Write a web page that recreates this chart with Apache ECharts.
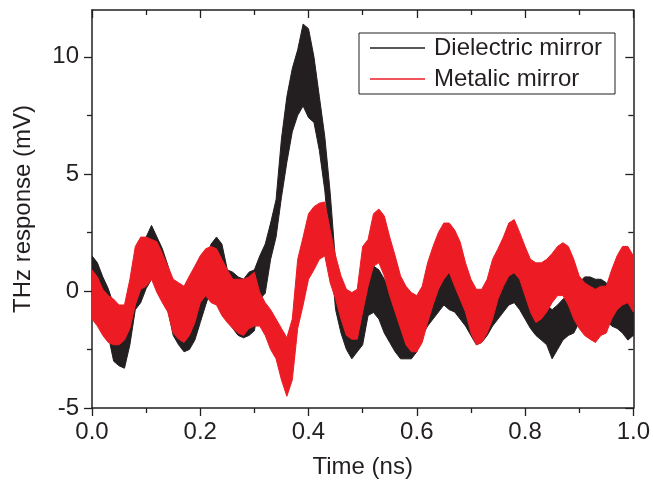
<!DOCTYPE html>
<html>
<head>
<meta charset="utf-8">
<script src="https://cdn.jsdelivr.net/npm/echarts@6/dist/echarts.min.js"></script>
<style>
  html, body { margin: 0; padding: 0; background: #fff; }
  #chart { width: 653px; height: 490px; }
</style>
</head>
<body>
<div id="chart"></div>
<script>
// Sample times (ns)
const TIME = [0.00,0.01,0.02,0.03,0.04,0.05,0.06,0.07,0.08,0.09,
  0.10,0.11,0.12,0.13,0.14,0.15,0.16,0.17,0.18,0.19,
  0.20,0.21,0.22,0.23,0.24,0.25,0.26,0.27,0.28,0.29,
  0.30,0.31,0.32,0.33,0.34,0.35,0.36,0.37,0.38,0.39,
  0.40,0.41,0.42,0.43,0.44,0.45,0.46,0.47,0.48,0.49,
  0.50,0.51,0.52,0.53,0.54,0.55,0.56,0.57,0.58,0.59,
  0.60,0.61,0.62,0.63,0.64,0.65,0.66,0.67,0.68,0.69,
  0.70,0.71,0.72,0.73,0.74,0.75,0.76,0.77,0.78,0.79,
  0.80,0.81,0.82,0.83,0.84,0.85,0.86,0.87,0.88,0.89,
  0.90,0.91,0.92,0.93,0.94,0.95,0.96,0.97,0.98,0.99,1.00];

// Dielectric mirror: lower / upper envelope of the noisy trace (mV)
const DIELECTRIC_LO = [-0.9,-0.9,-1.2,-1.9,-3.0,-3.2,-3.3,-2.3,-0.8,-0.5,
  0.1,0.5,0.5,-0.35,-0.8,-1.9,-2.3,-2.6,-2.5,-2.1,
  -1.35,-0.6,0.1,0.2,-0.5,-1.2,-1.6,-1.9,-2.0,-1.9,
  -1.7,-0.35,-0.1,1.35,2.3,4.0,5.5,6.8,7.5,7.9,
  7.4,7.2,6.0,4.3,1.8,-0.8,-1.8,-2.5,-2.9,-2.6,
  -2.3,-1.05,-0.92,-1.2,-1.8,-2.2,-2.6,-2.9,-2.9,-2.9,
  -2.6,-1.9,-1.5,-1.2,-0.9,-0.6,-0.8,-0.9,-1.2,-1.5,
  -1.9,-2.3,-2.2,-1.9,-1.5,-1.2,-0.9,-0.6,-0.5,-0.8,
  -1.2,-1.6,-1.9,-2.1,-2.3,-2.9,-2.5,-2.1,-1.9,-1.8,
  -1.35,-1.05,-0.9,-1.5,-1.35,-1.2,-1.5,-1.6,-1.8,-2.1,-1.9];
const DIELECTRIC_HI = [1.5,1.2,0.6,0.1,-0.6,-1.2,-1.35,-0.6,1.1,1.8,
  2.3,2.8,2.3,1.8,1.1,0.35,-0.2,-0.6,-0.6,-0.1,
  0.6,1.35,2.0,2.3,2.0,0.9,0.8,0.6,0.5,0.8,
  0.9,1.5,2.0,2.9,3.9,6.5,8.3,9.5,10.3,11.4,
  11.2,10.0,8.3,6.6,4.2,1.2,0.5,-0.2,-0.5,-0.8,
  -0.2,0.6,1.06,0.9,0.5,0.07,-0.5,-0.9,-1.2,-0.9,
  -0.5,-0.2,0.35,0.8,1.06,1.35,1.2,0.9,0.5,0.2,
  -0.2,-0.5,-0.35,-0.07,0.2,0.5,0.9,1.06,1.06,0.9,
  0.5,0.07,-0.35,-0.6,-0.6,-0.8,-0.6,-0.35,-0.2,-0.07,
  0.35,0.6,0.6,0.5,0.5,0.35,0.07,-0.07,-0.2,-0.35,-0.5];

// Metalic mirror: lower / upper envelope of the noisy trace (mV)
const METALIC_LO = [-1.2,-1.5,-1.9,-2.2,-2.3,-2.3,-2.1,-1.6,-0.6,0.07,
  0.2,0.5,-0.07,-0.5,-0.9,-1.8,-2.06,-2.2,-1.9,-1.35,
  -0.5,-0.2,-0.5,-0.6,-1.05,-1.35,-1.6,-1.8,-1.9,-1.6,
  -1.5,-1.5,-1.9,-2.5,-2.9,-3.8,-4.5,-3.8,-1.6,-0.6,
  0.5,0.9,1.35,1.5,0.35,-0.35,-1.2,-1.9,-2.06,-2.06,
  -0.9,0.2,1.06,1.2,0.64,-0.2,-0.9,-1.6,-2.3,-2.6,
  -2.6,-2.2,-1.35,-0.6,0.07,0.5,0.8,0.2,-0.35,-0.9,
  -1.8,-2.3,-2.2,-1.8,-1.2,-0.35,0.2,0.64,0.78,0.5,
  -0.2,-0.9,-1.35,-1.2,-0.9,-0.5,-0.2,-0.2,-0.6,-1.2,
  -1.6,-1.9,-2.06,-2.2,-1.9,-1.8,-1.2,-0.8,-0.6,-0.5,-0.9];
const METALIC_HI = [0.9,0.6,0.07,-0.2,-0.35,-0.6,-0.6,0.5,1.9,2.3,
  2.3,2.2,2.1,1.6,1.06,0.5,0.35,0.2,0.64,1.06,
  1.5,1.8,1.9,1.8,1.35,0.9,0.5,0.5,0.5,0.6,
  0.8,-0.07,-0.5,-0.8,-1.2,-1.6,-2.0,-1.2,1.35,2.3,
  3.3,3.6,3.75,3.8,2.6,1.5,0.64,0.07,-0.07,0.07,
  1.9,2.2,3.3,3.5,3.2,2.3,1.5,0.64,0.2,-0.07,
  -0.2,0.2,1.2,1.9,2.5,2.9,2.9,2.6,2.1,1.2,
  0.5,0.07,0.07,0.5,1.35,1.8,2.3,2.9,3.05,2.5,
  1.9,1.35,1.2,1.2,1.35,1.6,1.9,2.06,1.9,1.35,
  0.64,0.35,0.2,0.07,0.2,0.2,0.9,1.5,1.9,1.9,1.5];

const Y_MAJOR = [-5, 0, 5, 10];
const Y_MINOR = [-2.5, 2.5, 7.5];

const INK = '#231f20';
const FONT = "'Liberation Sans', Arial, sans-serif";

function band(name, lo, hi, color) {
  return {
    type: 'custom',
    name: name,
    coordinateSystem: 'cartesian2d',
    xAxisIndex: 0, yAxisIndex: 0,
    clip: true,
    itemStyle: { color: color },
    data: TIME.map((t, i) => [t, lo[i], hi[i]]),
    encode: { x: 0, y: [1, 2] },
    renderItem: function (params, api) {
      if (params.dataIndex !== 0) return null;
      const pts = [];
      for (let i = 0; i < TIME.length; i++) pts.push(api.coord([TIME[i], hi[i]]));
      for (let i = TIME.length - 1; i >= 0; i--) pts.push(api.coord([TIME[i], lo[i]]));
      return { type: 'polygon', shape: { points: pts }, style: { fill: color, stroke: color, lineWidth: 1 } };
    }
  };
}

const axisLine = { show: true, onZero: false, lineStyle: { color: INK, width: 1.5 } };
const noLine = { show: false, onZero: false };

const chart = echarts.init(document.getElementById('chart'), null, { renderer: 'canvas' });
chart.setOption({
  animation: false,
  backgroundColor: '#fff',
  textStyle: { fontFamily: FONT, color: INK },
  grid: { left: 92, right: 18, top: 10, bottom: 82, containLabel: false },
  legend: {
    orient: 'vertical',
    left: 359, top: 33,
    padding: [2, 13, 2, 11],
    itemGap: 5,
    itemWidth: 55, itemHeight: 1.5,
    icon: 'rect',
    borderColor: INK, borderWidth: 1,
    data: ['Dielectric mirror', 'Metalic mirror'],
    textStyle: { fontSize: 24, color: INK, fontFamily: FONT, lineHeight: 26, padding: [0, 0, 0, 4] }
  },
  xAxis: [
    {
      type: 'value', position: 'bottom', min: 0, max: 1, interval: 0.2,
      axisLine: axisLine,
      axisTick: { show: true, length: 8, lineStyle: { color: INK, width: 1.3 } },
      minorTick: { show: true, splitNumber: 2, length: 5, lineStyle: { color: INK, width: 1.3 } },
      splitLine: { show: false },
      axisLabel: { fontSize: 24, color: INK, fontFamily: FONT, margin: 12, formatter: v => v.toFixed(1) },
      name: 'Time (ns)', nameLocation: 'middle', nameGap: 47,
      nameTextStyle: { fontSize: 24, color: INK, fontFamily: FONT }
    },
    {
      type: 'value', position: 'top', min: 0, max: 1, interval: 0.2,
      axisLine: axisLine,
      axisTick: { show: true, inside: true, length: 8, lineStyle: { color: INK, width: 1.3 } },
      minorTick: { show: true, splitNumber: 2, length: 5, lineStyle: { color: INK, width: 1.3 } },
      splitLine: { show: false },
      axisLabel: { show: false }
    }
  ],
  yAxis: [
    {
      type: 'value', position: 'left', min: -5, max: 12, interval: 5,
      axisLine: axisLine,
      axisTick: { show: true, length: 8, customValues: Y_MAJOR, lineStyle: { color: INK, width: 1.3 } },
      splitLine: { show: false },
      axisLabel: { fontSize: 24, color: INK, fontFamily: FONT, margin: 13, customValues: Y_MAJOR },
      name: 'THz response (mV)', nameLocation: 'middle', nameGap: 57,
      nameTextStyle: { fontSize: 24, color: INK, fontFamily: FONT }
    },
    {
      type: 'value', position: 'left', min: -5, max: 12,
      axisLine: noLine,
      axisTick: { show: true, length: 5, customValues: Y_MINOR, lineStyle: { color: INK, width: 1.3 } },
      splitLine: { show: false },
      axisLabel: { show: false }
    },
    {
      type: 'value', position: 'right', min: -5, max: 12,
      axisLine: axisLine,
      axisTick: { show: true, inside: true, length: 8, customValues: Y_MAJOR, lineStyle: { color: INK, width: 1.3 } },
      splitLine: { show: false },
      axisLabel: { show: false }
    },
    {
      type: 'value', position: 'right', min: -5, max: 12,
      axisLine: noLine,
      axisTick: { show: true, inside: true, length: 5, customValues: Y_MINOR, lineStyle: { color: INK, width: 1.3 } },
      splitLine: { show: false },
      axisLabel: { show: false }
    }
  ],
  series: [
    band('Dielectric mirror', DIELECTRIC_LO, DIELECTRIC_HI, INK),
    band('Metalic mirror', METALIC_LO, METALIC_HI, '#ed1c24')
  ]
});
</script>
</body>
</html>
